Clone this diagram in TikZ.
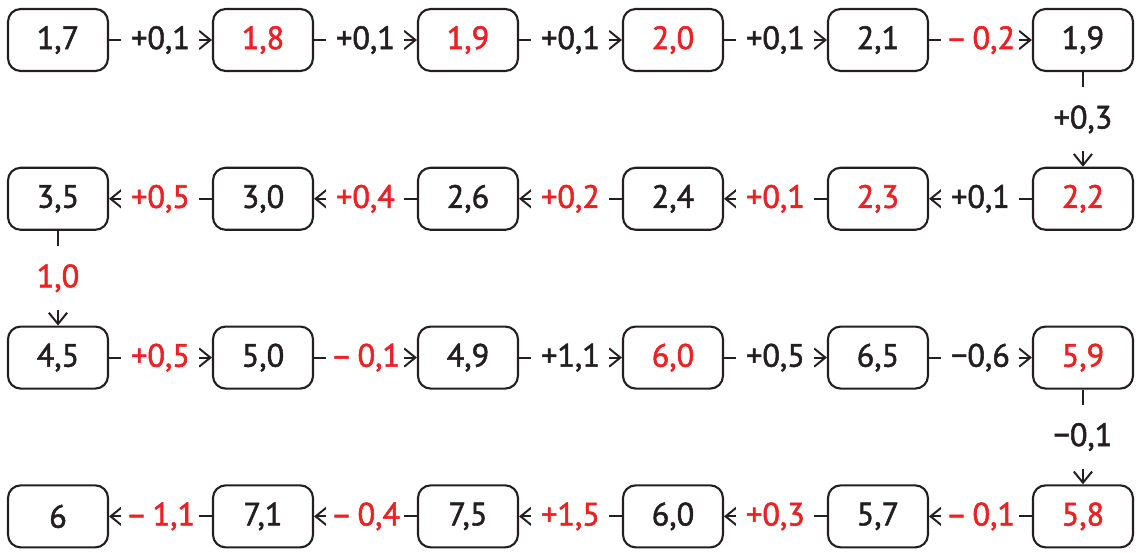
\documentclass[tikz,border=0pt]{standalone}
\usepackage{fontspec}
\setmainfont{PT Sans}
\newfontfamily\digfont[FakeBold=1.6]{PT Sans}
\usepackage{xcolor}
\usepackage{tikz}
\usetikzlibrary{positioning,arrows.meta}
\definecolor{ink}{RGB}{35,31,32}
\definecolor{hl}{RGB}{237,32,36}

\begin{document}
\begin{tikzpicture}[
    node distance=2.367cm and 2.572cm,
    every node/.style={font=\digfont\fontsize{23}{27}\selectfont, text=ink},
    bx/.style={rectangle, rounded corners=9pt, draw=ink, line width=1.5pt,
               minimum width=2.5cm, minimum height=1.55cm, inner sep=0pt},
    bxr/.style={bx, text=hl},
    arr/.style={-{Straight Barb[length=8pt,width=13pt]}, draw=ink, line width=1.4pt},
    lb/.style={fill=white, inner xsep=0.05cm, inner ysep=0.45cm, minimum width=1.95cm},
    lbr/.style={lb, text=hl}
]
\useasboundingbox (0,0) rectangle (28.5,-13.8);

\node[bx]  at (1.45,-1) (a1) {1,7};
\node[bxr, right=of a1] (a2) {1,8};
\node[bxr, right=of a2] (a3) {1,9};
\node[bxr, right=of a3] (a4) {2,0};
\node[bx,  right=of a4] (a5) {2,1};
\node[bx,  right=of a5] (a6) {1,9};

\node[bxr, below=of a6] (b1) {2,2};
\node[bxr, left=of b1]  (b2) {2,3};
\node[bx,  left=of b2]  (b3) {2,4};
\node[bx,  left=of b3]  (b4) {2,6};
\node[bx,  left=of b4]  (b5) {3,0};
\node[bx,  left=of b5]  (b6) {3,5};

\node[bx,  below=of b6] (c1) {4,5};
\node[bx,  right=of c1] (c2) {5,0};
\node[bx,  right=of c2] (c3) {4,9};
\node[bxr, right=of c3] (c4) {6,0};
\node[bx,  right=of c4] (c5) {6,5};
\node[bxr, right=of c5] (c6) {5,9};

\node[bxr, below=of c6] (d1) {5,8};
\node[bx,  left=of d1]  (d2) {5,7};
\node[bx,  left=of d2]  (d3) {6,0};
\node[bx,  left=of d3]  (d4) {7,5};
\node[bx,  left=of d4]  (d5) {7,1};
\node[bx,  left=of d5]  (d6) {6};

\draw[arr] (a1) -- node[lb]{+0,1} (a2);
\draw[arr] (a2) -- node[lb]{+0,1} (a3);
\draw[arr] (a3) -- node[lb]{+0,1} (a4);
\draw[arr] (a4) -- node[lb]{+0,1} (a5);
\draw[arr] (a5) -- node[lbr]{–\,0,2} (a6);
\draw[arr] (a6) -- node[lb]{+0,3} (b1);

\draw[arr] (b1) -- node[lb]{+0,1} (b2);
\draw[arr] (b2) -- node[lbr]{+0,1} (b3);
\draw[arr] (b3) -- node[lbr]{+0,2} (b4);
\draw[arr] (b4) -- node[lbr]{+0,4} (b5);
\draw[arr] (b5) -- node[lbr]{+0,5} (b6);
\draw[arr] (b6) -- node[lbr]{1,0} (c1);

\draw[arr] (c1) -- node[lbr]{+0,5} (c2);
\draw[arr] (c2) -- node[lbr]{–\,0,1} (c3);
\draw[arr] (c3) -- node[lb]{+1,1} (c4);
\draw[arr] (c4) -- node[lb]{+0,5} (c5);
\draw[arr] (c5) -- node[lb]{−0,6} (c6);
\draw[arr] (c6) -- node[lb]{−0,1} (d1);

\draw[arr] (d1) -- node[lbr]{–\,0,1} (d2);
\draw[arr] (d2) -- node[lbr]{+0,3} (d3);
\draw[arr] (d3) -- node[lbr]{+1,5} (d4);
\draw[arr] (d4) -- node[lbr]{–\,0,4} (d5);
\draw[arr] (d5) -- node[lbr]{–\,1,1} (d6);
\end{tikzpicture}
\end{document}
